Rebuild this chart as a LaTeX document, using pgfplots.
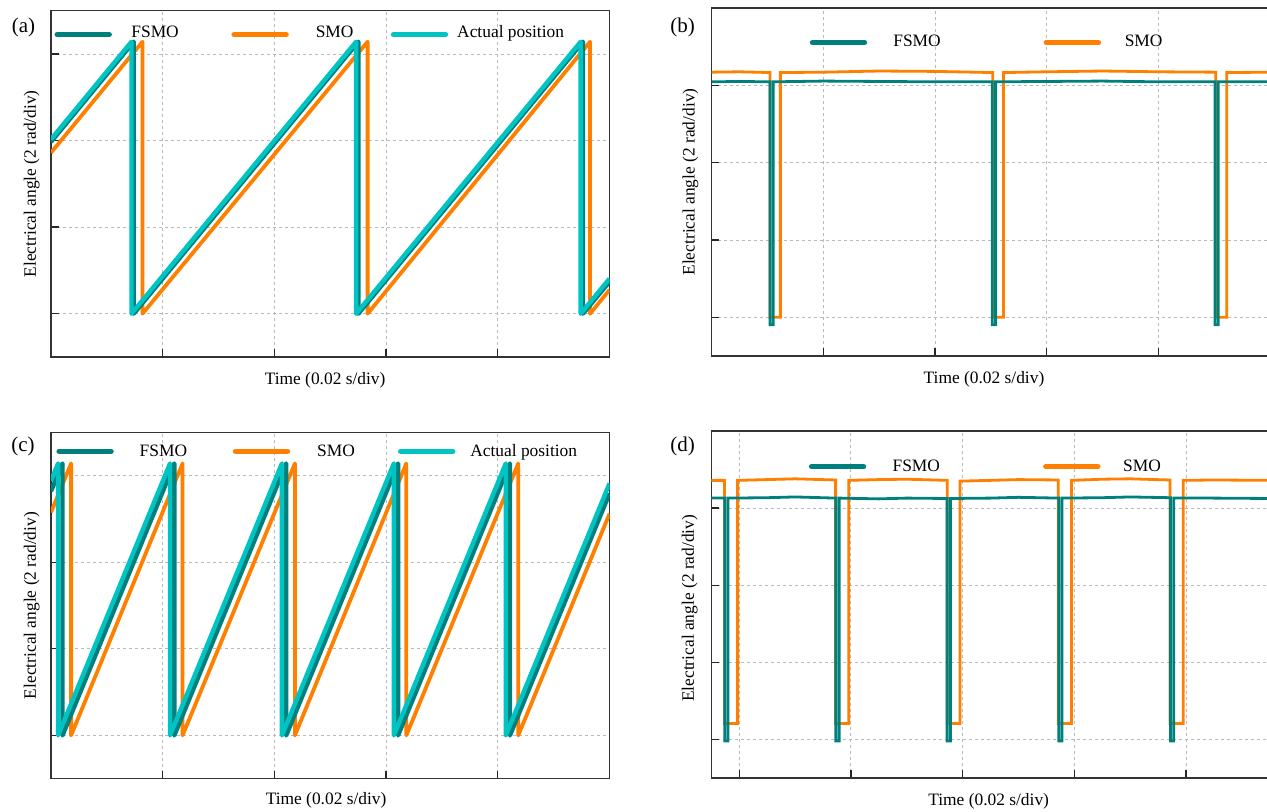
\documentclass[border=0pt]{standalone}
\usepackage{pgfplots}
\pgfplotsset{compat=1.18}
\usepackage{fontspec}
\setmainfont{Liberation Serif}
\definecolor{fsmo}{RGB}{0,128,124}
\definecolor{smo}{RGB}{255,128,0}
\definecolor{act}{RGB}{0,196,196}
\pgfplotsset{
  panel/.style={
    scale only axis, width=279.25pt,
    xmin=0, xmax=0.1, ymin=-1,
    ytick={0,2,4,6},
    xticklabels={}, yticklabels={},
    tick pos=left, tick align=inside, major tick length=3.75pt,
    tick style={line width=0.65pt, black!85},
    axis line style={line width=0.65pt, black!80},
    grid=major, grid style={line width=0.45pt, gray!55, dash pattern=on 1.5pt off 1.5pt},
    every axis label/.append style={font=\fontsize{8.7}{10}\selectfont, inner sep=0pt},
    xlabel={Time (0.02 s/div)}, ylabel={Electrical angle (2 rad/div)},
    legend style={draw=none, fill=none, inner sep=0pt, outer sep=0pt,
      font=\fontsize{8.7}{10}\selectfont, column sep=0pt, row sep=0pt,
      nodes={inner sep=0pt, outer sep=0pt, text depth=0pt},
      cells={anchor=base west}},
  },
  legy/.style={legend image code/.code={\draw[##1, line width=2.7pt, line cap=round] (0pt,#1) -- (26pt,#1);}},
}
\begin{document}
\begin{tikzpicture}
\path[use as bounding box] (0,0) rectangle (633.5pt,406pt);
\clip (0,0) rectangle (633.5pt,406pt);

% (a)
\begin{axis}[panel, at={(25.5pt,227.5pt)}, anchor=south west, height=173.15pt, ymax=7,
  xtick={0.02,0.04,0.06,0.08},
  xlabel style={at={(axis description cs:0.4908,0)}, anchor=center, yshift=-11.5pt},
  ylabel style={at={(axis description cs:-0.0347,0.5)}, anchor=center},
  legy=1.65pt, legend columns=3,
  legend style={at={(axis description cs:0.00627,0.9388)}, anchor=west}]
\addlegendimage{color=fsmo}\addlegendentry{\makebox[59.75pt][l]{\hspace{9.75pt}FSMO}}
\addlegendimage{color=smo}\addlegendentry{\makebox[51pt][l]{\hspace{13.5pt}SMO}}
\addlegendimage{color=act}\addlegendentry{\hspace{4.5pt}Actual position}
\addplot[smo, line width=1.9pt, line join=round, forget plot] coordinates {(0,3.72) (0.01638,6.283) (0.01638,0) (0.05669,6.283) (0.05669,0) (0.09651,6.283) (0.09651,0) (0.1,0.55)};
\addplot[fsmo, line width=2.2pt, line join=round, forget plot] coordinates {(0,3.97) (0.01481,6.283) (0.01481,0) (0.05503,6.283) (0.05503,0) (0.09524,6.283) (0.09524,0) (0.1,0.74)};
\addplot[act, line width=2.2pt, line join=round, forget plot] coordinates {(0,4.03) (0.01441,6.283) (0.01441,0) (0.05463,6.283) (0.05463,0) (0.09484,6.283) (0.09484,0) (0.1,0.81)};
\end{axis}
\node[font=\fontsize{10.5}{12}\selectfont, inner sep=0pt] at (11.75pt,392.5pt) {(a)};

% (b)
\begin{axis}[panel, at={(355.85pt,228pt)}, anchor=south west, height=174pt, ymax=8,
  xtick={0.02,0.04,0.06,0.08},
  xlabel style={at={(axis description cs:0.4875,0)}, anchor=center, yshift=-11.6pt},
  ylabel style={at={(axis description cs:-0.0382,0.5)}, anchor=center},
  legy=2pt, legend columns=2,
  legend style={at={(axis description cs:0.1756,0.9055)}, anchor=west}]
\addlegendimage{color=fsmo}\addlegendentry{\makebox[88.25pt][l]{\hspace{13.1pt}FSMO}}
\addlegendimage{color=smo}\addlegendentry{\hspace{11.85pt}SMO}
\addplot[smo, line width=1.4pt, forget plot] coordinates {(0,6.34) (0.005,6.35) (0.01044,6.33) (0.01044,0) (0.01229,0) (0.01229,6.33) (0.02,6.34) (0.03,6.37) (0.04,6.36) (0.05031,6.33) (0.05031,0) (0.05225,0) (0.05225,6.33) (0.06,6.35) (0.07,6.37) (0.08,6.35) (0.09026,6.34) (0.09026,0) (0.0922,0) (0.0922,6.33) (0.1,6.34)};
\addplot[fsmo, line width=1.4pt, forget plot] coordinates {(0,6.09) (0.005,6.10) (0.01043,6.09) (0.01043,-0.19) (0.01103,-0.19) (0.01103,6.09) (0.02,6.11) (0.03,6.10) (0.04,6.09) (0.05023,6.09) (0.05023,-0.19) (0.05083,-0.19) (0.05083,6.09) (0.06,6.10) (0.07,6.11) (0.08,6.09) (0.0901,6.09) (0.0901,-0.19) (0.0907,-0.19) (0.0907,6.09) (0.1,6.09)};
\end{axis}
\node[font=\fontsize{10.5}{12}\selectfont, inner sep=0pt] at (341.25pt,392.5pt) {(b)};

% (c)
\begin{axis}[panel, at={(25.5pt,16.65pt)}, anchor=south west, height=173.15pt, ymax=7,
  xtick={0.02,0.04,0.06,0.08},
  xlabel style={at={(axis description cs:0.4926,0)}, anchor=center, yshift=-11pt},
  ylabel style={at={(axis description cs:-0.0347,0.5)}, anchor=center},
  legy=2.85pt, legend columns=3,
  legend style={at={(axis description cs:0.00967,0.9466)}, anchor=west}]
\addlegendimage{color=fsmo}\addlegendentry{\makebox[59.5pt][l]{\hspace{12.95pt}FSMO}}
\addlegendimage{color=smo}\addlegendentry{\makebox[53.9pt][l]{\hspace{13.5pt}SMO}}
\addlegendimage{color=act}\addlegendentry{\hspace{7.45pt}Actual position}
\addplot[smo, line width=1.9pt, line join=round, forget plot] coordinates {(0,5.15) (0.0036,6.283) (0.0036,0) (0.02356,6.283) (0.02356,0) (0.04367,6.283) (0.04367,0) (0.06362,6.283) (0.06362,0) (0.08366,6.283) (0.08366,0) (0.1,5.12)};
\addplot[fsmo, line width=2.2pt, line join=round, forget plot] coordinates {(0,5.64) (0.00206,6.283) (0.00206,0) (0.02208,6.283) (0.02208,0) (0.04211,6.283) (0.04211,0) (0.06214,6.283) (0.06214,0) (0.08217,6.283) (0.08217,0) (0.1,5.59)};
\addplot[act, line width=2.2pt, line join=round, forget plot] coordinates {(0,5.885) (0.00127,6.283) (0.00127,0) (0.02131,6.283) (0.02131,0) (0.04135,6.283) (0.04135,0) (0.06139,6.283) (0.06139,0) (0.08143,6.283) (0.08143,0) (0.1,5.82)};
\end{axis}
\node[font=\fontsize{10.5}{12}\selectfont, inner sep=0pt] at (11.5pt,182.65pt) {(c)};

% (d)
\begin{axis}[panel, at={(355.65pt,17pt)}, anchor=south west, height=173.5pt, ymax=8,
  xtick={0.005,0.025,0.045,0.065,0.085},
  xlabel style={at={(axis description cs:0.4966,0)}, anchor=center, yshift=-11.6pt},
  ylabel style={at={(axis description cs:-0.0385,0.489)}, anchor=center},
  legy=2.5pt, legend columns=2,
  legend style={at={(axis description cs:0.1746,0.8994)}, anchor=west}]
\addlegendimage{color=fsmo}\addlegendentry{\makebox[88.45pt][l]{\hspace{13.2pt}FSMO}}
\addlegendimage{color=smo}\addlegendentry{\hspace{11.3pt}SMO}
\addplot[smo, line width=1.4pt, forget plot] coordinates {(0,6.72) (0.00236,6.72) (0.00236,0.415) (0.00471,0.415) (0.00471,6.72) (0.01,6.74) (0.015,6.76) (0.02226,6.73) (0.02226,0.415) (0.02462,0.415) (0.02462,6.72) (0.03,6.74) (0.035,6.75) (0.04224,6.72) (0.04224,0.415) (0.04452,0.415) (0.04452,6.70) (0.05,6.72) (0.055,6.74) (0.06213,6.73) (0.06213,0.415) (0.0645,0.415) (0.0645,6.72) (0.07,6.75) (0.075,6.76) (0.08211,6.73) (0.08211,0.415) (0.0845,0.415) (0.0845,6.72) (0.09,6.73) (0.1,6.72)};
\addplot[fsmo, line width=1.4pt, forget plot] coordinates {(0,6.26) (0.0024,6.26) (0.0024,-0.04) (0.003,-0.04) (0.003,6.26) (0.01,6.27) (0.015,6.29) (0.0223,6.26) (0.0223,-0.04) (0.0229,-0.04) (0.0229,6.26) (0.03,6.24) (0.035,6.26) (0.0422,6.25) (0.0422,-0.04) (0.0428,-0.04) (0.0428,6.25) (0.05,6.26) (0.055,6.28) (0.0622,6.26) (0.0622,-0.04) (0.0628,-0.04) (0.0628,6.26) (0.07,6.27) (0.075,6.29) (0.0822,6.27) (0.0822,-0.04) (0.0828,-0.04) (0.0828,6.26) (0.09,6.26) (0.1,6.25)};
\end{axis}
\node[font=\fontsize{10.5}{12}\selectfont, inner sep=0pt] at (341.25pt,183pt) {(d)};
\end{tikzpicture}
\end{document}
